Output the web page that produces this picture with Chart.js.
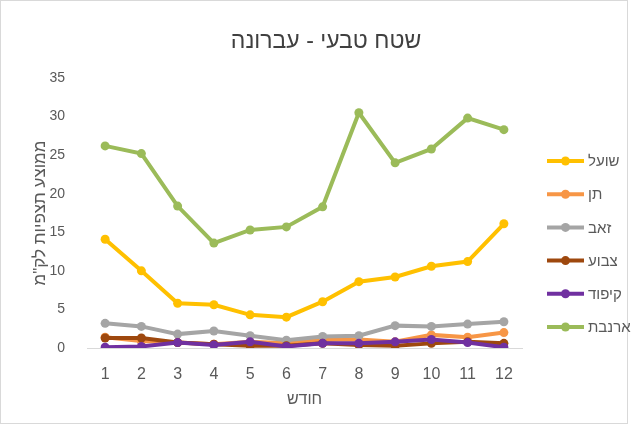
<!DOCTYPE html>
<html>
<head>
<meta charset="utf-8">
<script src="https://cdn.jsdelivr.net/npm/chart.js@4"></script>
<style>
  html, body { margin: 0; padding: 0; background: #fff; }
  #wrap { width: 639px; height: 430px; position: relative; }
</style>
</head>
<body>
<div id="wrap"><canvas id="chart" width="639" height="430"></canvas></div>
<script>
// Data
const months = ["1", "2", "3", "4", "5", "6", "7", "8", "9", "10", "11", "12"];
const seriesNames = ["שועל", "תן", "זאב", "צבוע", "קיפוד", "ארנבת"];
const fox = [14.1, 10.0, 5.8, 5.6, 4.3, 4.0, 6.0, 8.6, 9.2, 10.6, 11.2, 16.1];
const jackal = [1.4, 0.9, 0.7, 0.5, 0.8, 0.6, 1.1, 1.1, 0.8, 1.7, 1.4, 2.0];
const wolf = [3.2, 2.8, 1.8, 2.2, 1.6, 1.0, 1.5, 1.6, 2.9, 2.8, 3.1, 3.4];
const hyena = [1.3, 1.3, 0.7, 0.5, 0.3, 0.3, 0.6, 0.4, 0.3, 0.6, 0.8, 0.6];
const hedgehog = [0.1, 0.2, 0.7, 0.4, 0.8, 0.2, 0.6, 0.6, 0.8, 1.1, 0.7, 0.1];
const hare = [26.2, 25.2, 18.4, 13.6, 15.3, 15.7, 18.3, 30.5, 24.0, 25.8, 29.8, 28.3];
const colors = ["#FFC000", "#F79646", "#A5A5A5", "#9E480E", "#7030A0", "#9BBB59"];

const chartTitle = "שטח טבעי - עברונה";
const xTitle = "חודש";
const yTitle = "ממוצע תצפיות לק\"מ";

const FONT = "'Liberation Sans', 'DejaVu Sans', sans-serif";
const TEXT = "#595959";

const allSeries = [fox, jackal, wolf, hyena, hedgehog, hare];

// Border, title and legend drawn on the canvas
const decorations = {
  id: "decorations",
  afterDraw(chart) {
    const ctx = chart.ctx;
    ctx.save();
    ctx.strokeStyle = "#d9d9d9";
    ctx.lineWidth = 1;
    ctx.strokeRect(0.5, 0.5, 627, 423);

    ctx.fillStyle = "#404040";
    ctx.font = "23px " + FONT;
    ctx.textAlign = "center";
    ctx.textBaseline = "middle";
    ctx.fillText(chartTitle, 326, 42);

    ctx.font = "15px " + FONT;
    ctx.textAlign = "left";
    seriesNames.forEach((name, i) => {
      const y = 161 + i * 33.2;
      ctx.strokeStyle = colors[i];
      ctx.lineWidth = 4;
      ctx.beginPath();
      ctx.moveTo(547, y);
      ctx.lineTo(584, y);
      ctx.stroke();
      ctx.fillStyle = colors[i];
      ctx.beginPath();
      ctx.arc(565.5, y, 4.5, 0, Math.PI * 2);
      ctx.fill();
      ctx.fillStyle = TEXT;
      ctx.fillText(name, 588, y + 1);
    });
    ctx.restore();
  },
};

new Chart(document.getElementById("chart"), {
  type: "line",
  data: {
    labels: months,
    datasets: allSeries.map((data, i) => ({
      label: seriesNames[i],
      data: data,
      borderColor: colors[i],
      backgroundColor: colors[i],
      borderWidth: 4,
      pointRadius: 4.5,
      pointBorderWidth: 0,
      tension: 0,
      order: allSeries.length - i,
    })),
  },
  options: {
    responsive: false,
    animation: false,
    layout: { padding: { top: 78, right: 117, bottom: 0, left: 0 } },
    plugins: {
      legend: { display: false },
      title: { display: false },
      tooltip: { enabled: false },
    },
    scales: {
      x: {
        offset: true,
        grid: { display: false },
        border: { color: "#d9d9d9", width: 1 },
        ticks: { color: TEXT, font: { family: FONT, size: 16 }, padding: 9, maxRotation: 0 },
        title: {
          display: true,
          text: xTitle,
          color: TEXT,
          font: { family: FONT, size: 16 },
          padding: { top: 0, bottom: 21 },
        },
        afterFit(scale) { scale.height = 82; },
      },
      y: {
        min: 0,
        max: 35,
        grid: { display: false },
        border: { display: false },
        ticks: { stepSize: 5, color: TEXT, font: { family: FONT, size: 14 }, padding: 14 },
        title: {
          display: true,
          text: yTitle,
          color: TEXT,
          font: { family: FONT, size: 17 },
          padding: { top: 30, bottom: 0 },
        },
        afterFit(scale) { scale.width = 87; },
      },
    },
  },
  plugins: [decorations],
});
</script>
</body>
</html>
